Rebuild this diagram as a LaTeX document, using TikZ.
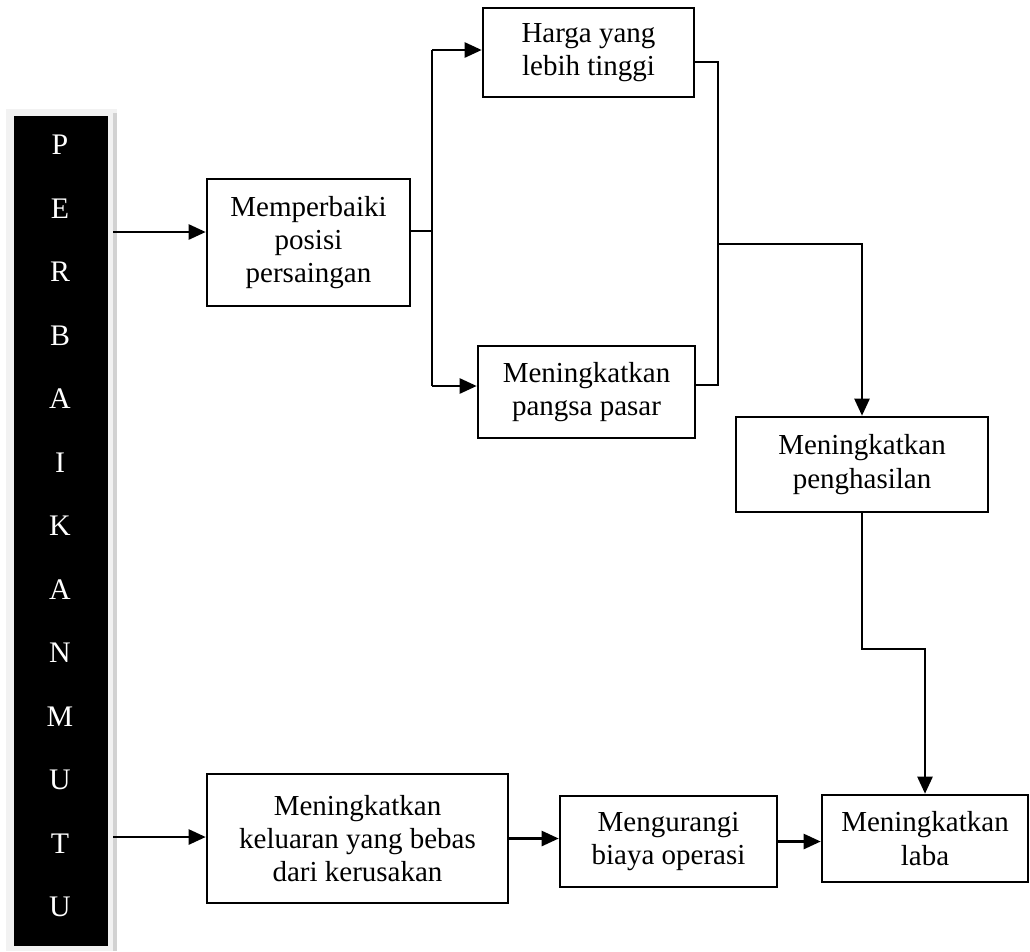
\documentclass[tikz,border=0pt]{standalone}
\usepackage{fontspec}
\setmainfont{Liberation Serif}
\usetikzlibrary{arrows.meta}

\newcommand{\kotakfont}{\fontsize{16.5}{19}\selectfont}
\newcommand{\hurufffont}{\fontsize{17}{20}\selectfont}

\tikzset{
  kotak/.style={draw, line width=1.5pt, align=center, inner sep=0pt, font=\kotakfont},
  garis/.style={line width=1.4pt},
  panah/.style={line width=1.4pt, -{Triangle[length=0.34cm, width=0.3cm]}}
}

\begin{document}
\begin{tikzpicture}[x=0.02cm, y=-0.02cm]
  \useasboundingbox (0,0) rectangle (1030,951);

  % Vertical banner PERBAIKAN MUTU
  \fill[gray!10] (6,109) rectangle (117,951);
  \fill[gray!35] (113,113) rectangle (117,951);
  \node[fill=black, minimum width=1.88cm, minimum height=16.6cm, inner sep=0pt] (bar) at (61,531) {};
  \foreach \ch [count=\i from 0] in {P,E,R,B,A,I,K,A,N,M,U,T,U} {
    \node[font=\hurufffont, text=white] (huruf\i) at (60, 145+63.5*\i) {\ch};
  }

  % Boxes
  \node[kotak, minimum width=4.06cm, minimum height=2.54cm] (posisi) at (308.5,242.5) {Memperbaiki\\posisi\\persaingan};
  \node[kotak, minimum width=4.22cm, minimum height=1.78cm] (harga) at (588.5,52.5) {Harga yang\\lebih tinggi};
  \node[kotak, minimum width=4.34cm, minimum height=1.84cm] (pangsa) at (586.5,392) {Meningkatkan\\pangsa pasar};
  \node[kotak, minimum width=5.04cm, minimum height=1.90cm] (hasil) at (862,464.5) {Meningkatkan\\penghasilan};
  \node[kotak, minimum width=6.02cm, minimum height=2.58cm] (keluaran) at (357.5,838.5) {Meningkatkan\\keluaran yang bebas\\dari kerusakan};
  \node[kotak, minimum width=4.34cm, minimum height=1.82cm] (biaya) at (668.5,841.5) {Mengurangi\\biaya operasi};
  \node[kotak, minimum width=4.12cm, minimum height=1.74cm] (laba) at (925,838.5) {Meningkatkan\\laba};

  % Junction points
  \coordinate (p1) at (113,232);
  \coordinate (p2) at (113,837);
  \coordinate (j1) at (432,231);
  \coordinate (sa) at (432,50);
  \coordinate (sb) at (432,386);
  \coordinate (ta) at (718,62);
  \coordinate (tb) at (718,385);
  \coordinate (j2) at (718,244);
  \coordinate (k2) at (925,649);

  % Upper branch
  \draw[panah] (p1) -- (p1 -| posisi.west);
  \draw[garis] (posisi.east |- j1) -- (j1);
  \draw[garis] (sa) -- (sb);
  \draw[panah] (sa) -- (sa -| harga.west);
  \draw[panah] (sb) -- (sb -| pangsa.west);
  \draw[garis] (ta -| harga.east) -- (ta) -- (tb) -- (tb -| pangsa.east);
  \draw[panah] (j2) -| (hasil.north);
  \draw[panah] (hasil.south) |- (k2) -- (laba.north);

  % Lower branch
  \draw[panah] (p2) -- (p2 -| keluaran.west);
  \draw[panah] (keluaran.east) -- (keluaran.east -| biaya.west);
  \draw[panah] (biaya.east) -- (biaya.east -| laba.west);
\end{tikzpicture}
\end{document}
